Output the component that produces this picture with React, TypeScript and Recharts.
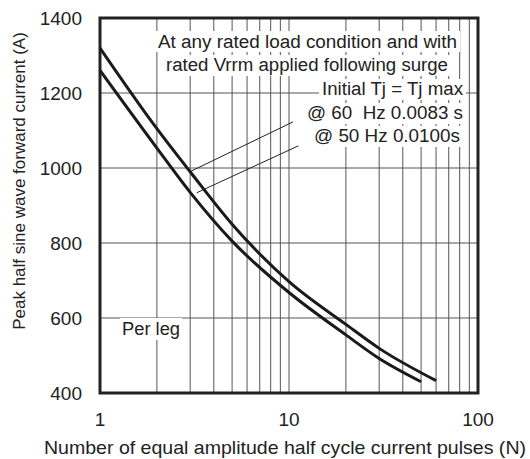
import React from 'react';
import { LineChart, Line, XAxis, YAxis, CartesianGrid, ReferenceArea, ReferenceLine } from 'recharts';

// 60 Hz curve (upper)
const pulses60 = [1, 2, 3, 5, 10, 20, 30, 60];
const current60 = [1320, 1105, 990, 850, 697, 583, 519, 433];
// 50 Hz curve (lower)
const pulses50 = [1, 2, 3, 5, 10, 20, 30, 50];
const current50 = [1260, 1053, 935, 805, 668, 555, 492, 430];

const xTicks = [1, 2, 3, 4, 5, 6, 7, 8, 9, 10, 20, 30, 40, 50, 60, 70, 80, 90, 100];
const xTickLabels = ['1', '10', '100'];
const yTicks = [400, 600, 800, 1000, 1200, 1400];

const data60 = pulses60.map((n, i) => ({ n, a: current60[i] }));
const data50 = pulses50.map((n, i) => ({ n, a: current50[i] }));

const FONT = '"Liberation Sans", Arial, sans-serif';

export default function App() {
  return (
    <div style={{ position: 'absolute', left: 0, top: 0, width: 530, height: 459, background: '#fff' }}>
      <LineChart
        width={530}
        height={459}
        margin={{ top: 18, right: 52, left: 0, bottom: 0 }}
        style={{ fontFamily: FONT }}
      >
        <CartesianGrid stroke="#555" strokeWidth={1} />
        <XAxis
          dataKey="n"
          type="number"
          scale="log"
          domain={[1, 100]}
          ticks={xTicks}
          allowDataOverflow
          height={66}
          axisLine={false}
          tickLine={false}
          tickMargin={14}
          interval={0}
          tick={{ fill: '#222', fontSize: 19, fontFamily: FONT }}
          tickFormatter={(v: number) => (xTickLabels.includes(String(v)) ? String(v) : '')}
        />
        <YAxis
          type="number"
          domain={[400, 1400]}
          ticks={yTicks}
          width={100}
          axisLine={false}
          tickLine={false}
          tickMargin={12}
          interval={0}
          tick={{ fill: '#222', fontSize: 19, fontFamily: FONT }}
        />
        <ReferenceArea x1={1} x2={100} y1={400} y2={1400} fill="none" stroke="#222" strokeWidth={3} ifOverflow="visible" />
        <ReferenceLine segment={[{ x: 2.99, y: 990 }, { x: 10.5, y: 1123 }]} stroke="#222" strokeWidth={1} ifOverflow="visible" />
        <ReferenceLine segment={[{ x: 3.25, y: 934 }, { x: 11.2, y: 1059 }]} stroke="#222" strokeWidth={1} ifOverflow="visible" />
        <Line data={data60} dataKey="a" type="monotone" stroke="#1a1a1a" strokeWidth={3} dot={false} isAnimationActive={false} />
        <Line data={data50} dataKey="a" type="monotone" stroke="#1a1a1a" strokeWidth={3} dot={false} isAnimationActive={false} />
      </LineChart>
      <svg width={530} height={459} style={{ position: 'absolute', left: 0, top: 0, pointerEvents: 'none', fontFamily: FONT }}>
        <g fill="#222" fontSize={18}>
          <rect x={155} y={31} width={305} height={21} fill="#fff" />
          <text x={158} y={48} textLength={299} lengthAdjust="spacingAndGlyphs">At any rated load condition and with</text>
          <rect x={163} y={55} width={288} height={21} fill="#fff" />
          <text x={166} y={71} textLength={282} lengthAdjust="spacingAndGlyphs">rated Vrrm applied following surge</text>
          <rect x={319} y={79} width={147} height={21} fill="#fff" />
          <text x={322} y={95} textLength={141} lengthAdjust="spacingAndGlyphs">Initial Tj = Tj max</text>
          <rect x={304} y={103} width={162} height={21} fill="#fff" />
          <text x={307} y={119} textLength={156} lengthAdjust="spacingAndGlyphs" style={{ whiteSpace: 'pre' }}>@ 60  Hz 0.0083 s</text>
          <rect x={311} y={126} width={152} height={21} fill="#fff" />
          <text x={314} y={142} textLength={146} lengthAdjust="spacingAndGlyphs">@ 50 Hz 0.0100s</text>
          <rect x={120} y={318} width={62} height={22} fill="#fff" />
          <text x={122} y={335} textLength={58} lengthAdjust="spacingAndGlyphs">Per leg</text>
          <text x={0} y={0} fontSize={17} textAnchor="middle" transform="translate(25,181) rotate(-90)">Peak half sine wave forward current (A)</text>
          <text x={285} y={454} fontSize={19} textAnchor="middle" textLength={482} lengthAdjust="spacingAndGlyphs">Number of equal amplitude half cycle current pulses (N)</text>
        </g>
      </svg>
    </div>
  );
}
